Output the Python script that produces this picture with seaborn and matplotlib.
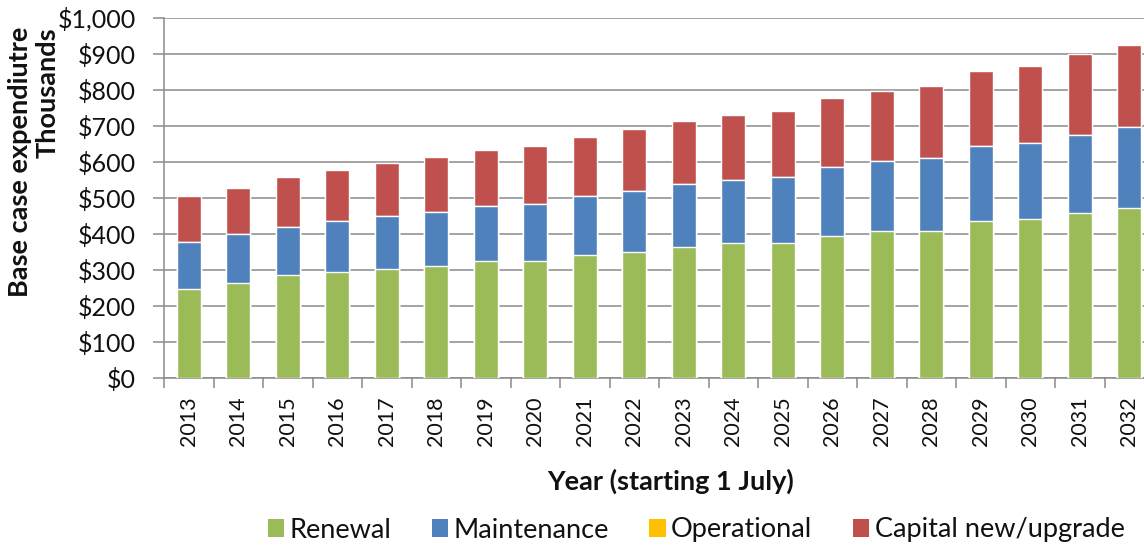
import matplotlib
matplotlib.use("Agg")
import matplotlib.pyplot as plt
from matplotlib.patches import Patch
from matplotlib.ticker import FuncFormatter, FixedLocator
import numpy as np
import pandas as pd
import seaborn as sns

# Base case expenditure by category ($ thousands), financial years starting 1 July
years = ["2013", "2014", "2015", "2016", "2017", "2018", "2019", "2020", "2021", "2022",
         "2023", "2024", "2025", "2026", "2027", "2028", "2029", "2030", "2031", "2032"]
renewal = [247, 263, 286, 296, 302, 312, 325, 325, 342, 351,
           365, 374, 374, 395, 408, 409, 436, 441, 459, 471]
maintenance = [130, 137, 134, 141, 148, 150, 154, 158, 164, 168,
               173, 176, 184, 192, 194, 201, 209, 212, 217, 227]
operational = [0] * 20
capital = [129, 128, 139, 140, 147, 151, 155, 161, 164, 173,
           176, 181, 183, 189, 195, 201, 207, 213, 223, 226]

series_names = ["Renewal", "Maintenance", "Operational", "Capital new/upgrade"]
series_colors = ["#9BBB59", "#4F81BD", "#FFC000", "#C0504D"]

df = pd.DataFrame({"year": years, "Renewal": renewal, "Maintenance": maintenance,
                   "Operational": operational, "Capital new/upgrade": capital})

sns.set_theme(style="white")
plt.rcParams["font.family"] = ["Lato", "DejaVu Sans"]

fig = plt.figure(figsize=(11.44, 5.49), dpi=100)
ax = fig.add_axes([164 / 1144, 1 - 378.3 / 549, 990 / 1144, (378.3 - 17.7) / 549])

# Stack by drawing cumulative totals from the top segment down
cum = df[series_names].cumsum(axis=1)
for name, color in reversed(list(zip(series_names, series_colors))):
    sns.barplot(x=df["year"], y=cum[name], color=color, width=0.48,
                saturation=1, ax=ax, zorder=3)

ax.set_ylim(0, 1000)
ax.set_xlim(-0.5, len(years) - 0.5)
ax.set_yticks(np.arange(0, 1001, 100))
ax.yaxis.set_major_formatter(FuncFormatter(lambda v, p: f"${v:,.0f}"))
ax.grid(axis="y", color="#8a8a8a", linewidth=1.1, zorder=0)
ax.set_axisbelow(True)

for side in ("top", "right"):
    ax.spines[side].set_visible(False)
for side in ("left", "bottom"):
    ax.spines[side].set_color("#8a8a8a")
    ax.spines[side].set_linewidth(1.1)

ax.tick_params(axis="y", which="major", left=True, length=8, width=1.1,
               color="#8a8a8a", pad=12, labelsize=18, labelcolor="#111111")
ax.tick_params(axis="x", which="major", bottom=False, length=0, pad=13,
               labelsize=15.5, labelrotation=90, labelcolor="#111111")
ax.xaxis.set_minor_locator(FixedLocator(np.arange(-0.5, len(years), 1.0)))
ax.tick_params(axis="x", which="minor", bottom=True, length=7, width=1.1,
               color="#8a8a8a")

ax.set_xlabel("")
ax.set_ylabel("")

fig.text(671 / 1144, 1 - 481 / 549, "Year (starting 1 July)", ha="center",
         va="center", fontsize=19.5, fontweight="bold", color="#111111")
fig.text(20 / 1144, 1 - 27 / 549, "Base case expendiutre", rotation=90,
         ha="center", va="top", fontsize=19.5, fontweight="bold", color="#111111")
fig.text(48 / 1144, 1 - 27 / 549, "Thousands", rotation=90,
         ha="center", va="top", fontsize=19.5, fontweight="bold", color="#111111")

handles = [Patch(facecolor=c, edgecolor="none") for c in series_colors]
fig.legend(handles, series_names, loc="center", bbox_to_anchor=(696 / 1144, 1 - 530 / 549),
           ncol=4, frameon=False, fontsize=19.5, handlelength=0.6, handleheight=0.6,
           handletextpad=0.2, columnspacing=1.5, labelcolor="#111111")

fig.savefig("out.png", dpi=100)
